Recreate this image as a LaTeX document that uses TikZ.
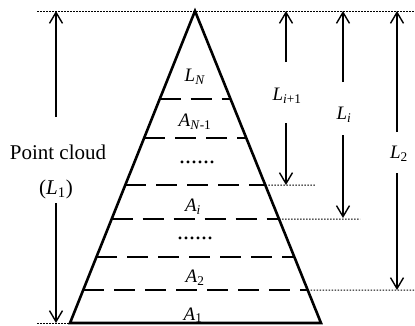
\documentclass[tikz,border=0pt]{standalone}
\usepackage{fontspec}
\setmainfont{Liberation Serif}
\usetikzlibrary{arrows.meta,calc}
\newcommand{\Lsub}[2]{\textit{#1}\textsubscript{#2}}
\begin{document}
\begin{tikzpicture}[x=1pt,y=-1pt,
  edge/.style={line width=2.6pt,line join=miter},
  layer/.style={line width=2.6pt,dash pattern=on 21pt off 10pt},
  guide/.style={line width=1pt,dash pattern=on 1.5pt off 1.5pt},
  dim/.style={line width=1.5pt,-{Straight Barb[length=11pt,width=13pt,line width=1.4pt]}},
  lbl/.style={inner sep=0pt,font=\fontsize{19}{22}\selectfont},
  dotrow/.style={inner sep=0pt,font=\fontsize{24}{26}\selectfont},
  big/.style={inner sep=0pt,font=\fontsize{21}{24}\selectfont}]
\useasboundingbox (0,0) rectangle (415,325);
% triangle
\coordinate (T) at (195,11);
\coordinate (BL) at (70,323);
\coordinate (BR) at (321,323);
\draw[edge] (BL) -- (T) -- (BR) -- cycle;
% layers
\foreach \n/\yy in {a/99,b/138,c/185,d/219,e/257,f/290}{
  \coordinate (\n l) at ($(T)!{(\yy-11)/312}!(BL)$);
  \coordinate (\n r) at ($(T)!{(\yy-11)/312}!(BR)$);
  \draw[layer] (\n l) -- (\n r);
}
% guides
\coordinate (gtl) at (37,11);
\coordinate (gtr) at (415,11);
\coordinate (gbl) at (37,323);
\coordinate (gc) at (315,185);
\coordinate (gd) at (360,219);
\coordinate (gf) at (415,290);
\draw[guide] (gtl) -- (gtr);
\draw[guide] (gbl) -- (BL);
\draw[guide] (cr) -- (gc);
\draw[guide] (dr) -- (gd);
\draw[guide] (fr) -- (gf);
% texts inside
\node[lbl] (ln) at (195,77) {\Lsub{L}{\textit{N}}};
\node[lbl] (an1) at (195,122) {\Lsub{A}{\textit{N}-1}};
\node[dotrow] (dots1) at (197,162) {......};
\node[lbl] (ai) at (193,207) {\Lsub{A}{\textit{i}}};
\node[dotrow] (dots2) at (195,238) {......};
\node[lbl] (a2) at (195,278) {\Lsub{A}{2}};
\node[lbl,anchor=base] (a1) at (193,320) {\Lsub{A}{1}};
% left dimension
\node[big] (pc) at (58,152) {Point cloud};
\node[big] (l1) at (56,189) {(\Lsub{L}{1})};
\coordinate (p1) at (56,117);
\coordinate (p1t) at (56,11);
\coordinate (p2) at (56,203);
\coordinate (p2b) at (56,323);
\draw[dim] (p1) -- (p1t);
\draw[dim] (p2) -- (p2b);
% right dimensions
\node[lbl] (lip) at (287,96) {\Lsub{L}{\textit{i}+1}};
\coordinate (u1) at (286,62);
\coordinate (u1t) at (286,11);
\coordinate (d1) at (286,123);
\coordinate (d1b) at (286,185);
\draw[dim] (u1) -- (u1t);
\draw[dim] (d1) -- (d1b);
\node[lbl] (li) at (344,115) {\Lsub{L}{\textit{i}}};
\coordinate (u2) at (343,82);
\coordinate (u2t) at (343,11);
\coordinate (d2) at (343,135);
\coordinate (d2b) at (343,218);
\draw[dim] (u2) -- (u2t);
\draw[dim] (d2) -- (d2b);
\node[lbl] (l2) at (399,154) {\Lsub{L}{2}};
\coordinate (u3) at (397,132);
\coordinate (u3t) at (397,11);
\coordinate (d3) at (397,173);
\coordinate (d3b) at (397,290);
\draw[dim] (u3) -- (u3t);
\draw[dim] (d3) -- (d3b);
\end{tikzpicture}
\end{document}
